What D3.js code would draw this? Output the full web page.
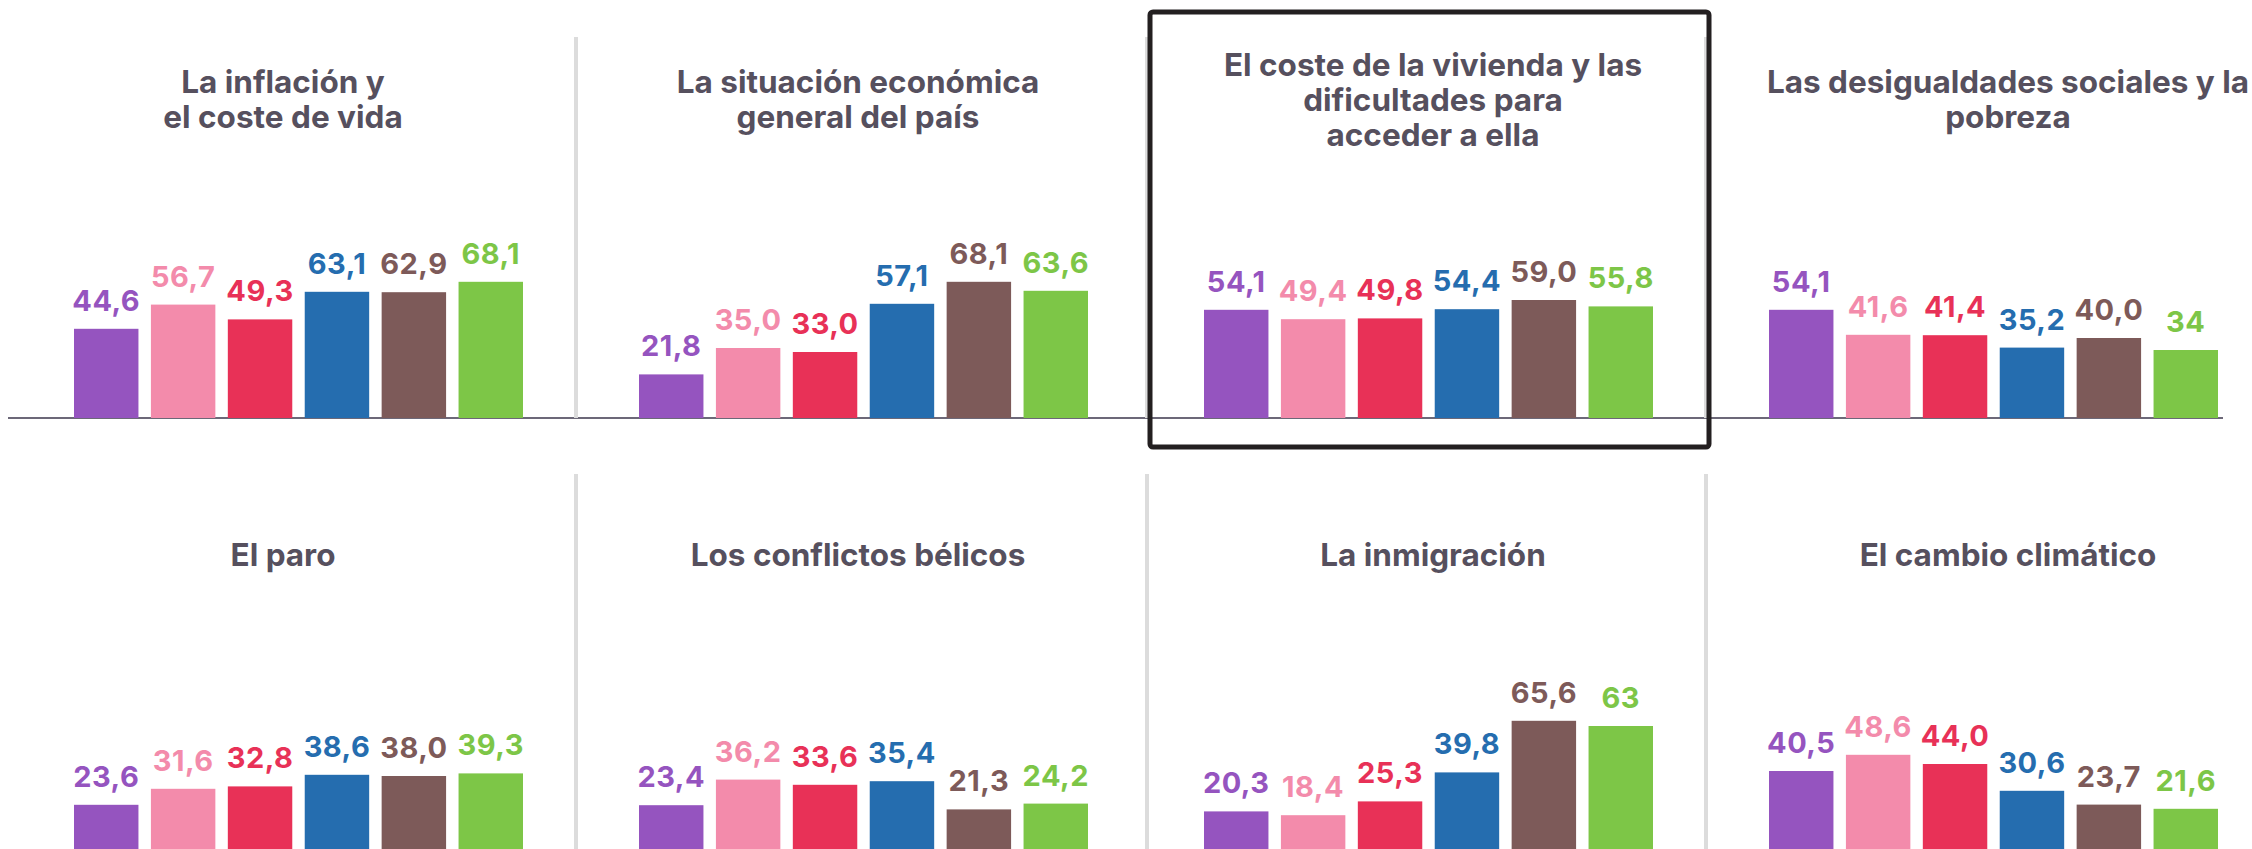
<!DOCTYPE html>
<html>
<head>
<meta charset="utf-8">
<script src="https://cdn.jsdelivr.net/npm/d3@7"></script>
<style>
  html, body { margin: 0; padding: 0; background: #ffffff; }
  svg { display: block; }
  text { font-family: Inter, "Open Sans", sans-serif; font-weight: 700; }
</style>
</head>
<body>
<svg id="chart" width="2252" height="849"></svg>
<script>
// ---------- DATA ----------
const titles = [
  ["La inflación y", "el coste de vida"],
  ["La situación económica", "general del país"],
  ["El coste de la vivienda y las", "dificultades para", "acceder a ella"],
  ["Las desigualdades sociales y la", "pobreza"],
  ["El paro"],
  ["Los conflictos bélicos"],
  ["La inmigración"],
  ["El cambio climático"]
];

const inflacion     = ["44,6", "56,7", "49,3", "63,1", "62,9", "68,1"];
const economia      = ["21,8", "35,0", "33,0", "57,1", "68,1", "63,6"];
const vivienda      = ["54,1", "49,4", "49,8", "54,4", "59,0", "55,8"];
const desigualdades = ["54,1", "41,6", "41,4", "35,2", "40,0", "34"];
const paro          = ["23,6", "31,6", "32,8", "38,6", "38,0", "39,3"];
const conflictos    = ["23,4", "36,2", "33,6", "35,4", "21,3", "24,2"];
const inmigracion   = ["20,3", "18,4", "25,3", "39,8", "65,6", "63"];
const clima         = ["40,5", "48,6", "44,0", "30,6", "23,7", "21,6"];

const panelValues = [inflacion, economia, vivienda, desigualdades,
                     paro, conflictos, inmigracion, clima];

const seriesColors = ["#9554bf", "#f38bab", "#e83157", "#256daf", "#7d5a59", "#7dc647"];

// ---------- LAYOUT ----------
const svg = d3.select("#chart");

const rowBaseline = [418, 852];
const rowTitleMid = [110.5, 566];
const titleLineH = 35;

const colX = d3.scaleBand().domain(d3.range(4)).range([74, 74 + 565 * 4]);
const barX = d3.scaleBand().domain(d3.range(6)).range([0, 449]).paddingInner(0.162);
const yH = d3.scaleLinear().domain([0, 70]).range([0, 140]);
const titleX = d3.scaleLinear().domain([0, 3]).range([283, 2008]);

const dividerX = [576, 1147, 1706];
const dividerTop = [37, 474];
const dividerBottom = [418, 849];

svg.append("line")
  .attr("x1", 8).attr("x2", 2223)
  .attr("y1", rowBaseline[0]).attr("y2", rowBaseline[0])
  .attr("stroke", "#6c6878").attr("stroke-width", 2);

[0, 1].forEach(r => {
  svg.selectAll(null).data(dividerX).enter().append("line")
    .attr("x1", d => d).attr("x2", d => d)
    .attr("y1", dividerTop[r]).attr("y2", dividerBottom[r])
    .attr("stroke", "#dcdcdc").attr("stroke-width", 4);
});

const parse = s => +s.replace(",", ".");

panelValues.forEach((vals, i) => {
  const row = Math.floor(i / 4), col = i % 4;
  const base = rowBaseline[row];
  const g = svg.append("g").attr("transform", `translate(${colX(col)},0)`);

  g.selectAll("rect").data(vals).enter().append("rect")
    .attr("x", (d, j) => barX(j))
    .attr("width", barX.bandwidth())
    .attr("y", d => base - yH(parse(d)))
    .attr("height", d => yH(parse(d)))
    .attr("fill", (d, j) => seriesColors[j]);

  g.selectAll("text.val").data(vals).enter().append("text")
    .attr("class", "val")
    .attr("x", (d, j) => barX(j) + barX.bandwidth() / 2)
    .attr("y", d => base - yH(parse(d)) - 18)
    .attr("text-anchor", "middle")
    .attr("font-size", 29)
    .attr("letter-spacing", 0.5)
    .attr("fill", (d, j) => seriesColors[j])
    .text(d => d);

  const lines = titles[i];
  const firstY = rowTitleMid[row] - (lines.length - 1) * titleLineH / 2;
  const t = svg.append("text")
    .attr("text-anchor", "middle")
    .attr("font-size", 31.5)
    .attr("fill", "#56505e");
  lines.forEach((ln, k) => {
    t.append("tspan").attr("x", titleX(col)).attr("y", firstY + k * titleLineH).text(ln);
  });
});

svg.append("rect")
  .attr("x", 1150).attr("y", 12)
  .attr("width", 1709 - 1150).attr("height", 447 - 12)
  .attr("rx", 3)
  .attr("fill", "none")
  .attr("stroke", "#231f20").attr("stroke-width", 5);
</script>
</body>
</html>
